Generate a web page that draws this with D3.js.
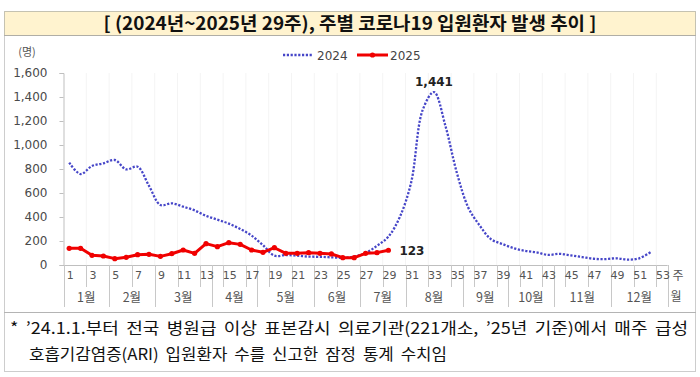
<!DOCTYPE html>
<html><head><meta charset="utf-8">
<script src="https://cdn.jsdelivr.net/npm/d3@7"></script>
<style>body{margin:0;background:#fff;} svg{display:block}</style>
</head><body>
<svg id="c" width="700" height="377"></svg>
<script>
// ---- data ----
const weeks = d3.range(1, 54);
const weekTickLabels = d3.range(1, 54, 2);
const months = ["1월","2월","3월","4월","5월","6월","7월","8월","9월","10월","11월","12월"];
const monthStartWeek = [1,5,9,14,18,23,27,31,36,40,44,49];
const monthEndWeek   = [4,8,13,17,22,26,30,35,39,43,48,53];
const series2024 = [853,758,825,847,875,797,819,660,500,514,486,455,410,378,345,300,245,165,78,83,78,70,68,64,60,70,100,160,236,400,690,1290,1441,1160,770,480,330,215,175,140,118,105,84,93,80,66,52,49,56,45,56,107];
const series2025 = [139,139,81,75,53,64,86,89,72,94,125,97,178,153,186,172,125,106,144,97,97,103,97,92,61,61,97,103,123];
const yTicks = [0,200,400,600,800,1000,1200,1400,1600];
const seriesNames = ["2024","2025"];
const titleText = "[ (2024년~2025년 29주), 주별 코로나19 입원환자 발생 추이 ]";
const noteLines = ["* ’24.1.1.부터 전국 병원급 이상 표본감시 의료기관(221개소, ’25년 기준)에서 매주 급성",
                   "호흡기감염증(ARI) 입원환자 수를 신고한 잠정 통계 수치임"];

const svg = d3.select("#c");
const latin = "'DejaVu Sans','Noto Sans CJK KR',sans-serif";
const kr = "'Noto Sans CJK KR','Noto Sans',sans-serif";

// frames
svg.append("rect").attr("x",4.5).attr("y",11.5).attr("width",691).attr("height",24)
  .attr("fill","#FFF3CF").attr("stroke","#8a8a7a").attr("stroke-dasharray","1 1");
svg.append("rect").attr("x",4.5).attr("y",35.5).attr("width",691).attr("height",277)
  .attr("fill","none").attr("stroke","#9a9a9a").attr("stroke-dasharray","1 1");
svg.append("rect").attr("x",4.5).attr("y",312.5).attr("width",691).attr("height",59)
  .attr("fill","none").attr("stroke","#9a9a9a").attr("stroke-dasharray","1 1");

function fitText(sel, w, mode){
  sel.attr("textLength", w).attr("lengthAdjust", mode || "spacingAndGlyphs");
}

const t = svg.append("text").attr("x",350).attr("y",30).attr("text-anchor","middle")
  .attr("font-family",kr).attr("font-weight","bold").attr("font-size",18).attr("fill","#111")
  .text(titleText);
fitText(t, 493, "spacingAndGlyphs");

// scales
const x = d3.scaleBand().domain(weeks).range([63.5, 667.7]).padding(0);
const bw = x.bandwidth();
const cx = w => x(w) + bw/2;
const y = d3.scaleLinear().domain([0,1600]).range([265,73]);

// faint vertical grid
svg.append("g").selectAll("line").data(weekTickLabels.slice(1)).join("line")
  .attr("x1",d=>x(d)).attr("x2",d=>x(d)).attr("y1",73).attr("y2",265)
  .attr("stroke","#f4f4f4").attr("stroke-width",1);

// y axis
const ya = svg.append("g").attr("transform","translate(63.5,0)")
  .call(d3.axisLeft(y).tickValues(yTicks).tickSize(4).tickPadding(12).tickFormat(d3.format(",")));
ya.select(".domain").attr("stroke","#bfbfbf");
ya.selectAll(".tick line").attr("stroke","#bfbfbf");
ya.selectAll("text").attr("font-family",latin).attr("font-size",12).attr("fill","#4a4a4a");
svg.append("text").attr("x",27).attr("y",56).attr("text-anchor","middle")
  .attr("font-family",kr).attr("font-size",11).attr("fill","#555").text("(명)");

// x axis line
svg.append("line").attr("x1",63.5).attr("x2",667.7).attr("y1",265.5).attr("y2",265.5).attr("stroke","#bfbfbf");
// week ticks
const tickPos = weekTickLabels.map(d=>x(d)).concat([667.7]);
svg.append("g").selectAll("line").data(tickPos).join("line")
  .attr("x1",d=>Math.round(d)+0.5).attr("x2",d=>Math.round(d)+0.5).attr("y1",265).attr("y2",287)
  .attr("stroke","#c8c8c8");
// month separators
const sepPos = monthStartWeek.map(d=>x(d)).concat([667.7]);
svg.append("g").selectAll("line").data(sepPos).join("line")
  .attr("x1",d=>Math.round(d)+0.5).attr("x2",d=>Math.round(d)+0.5).attr("y1",265).attr("y2",307)
  .attr("stroke","#c8c8c8");
// week labels
svg.append("g").selectAll("text").data(weekTickLabels).join("text")
  .attr("x",d=>cx(d)+1).attr("y",279).attr("text-anchor","middle")
  .attr("font-family",latin).attr("font-size",11).attr("fill","#555").text(d=>d);
// month labels
svg.append("g").selectAll("text").data(months).join("text")
  .attr("x",(d,i)=>(x(monthStartWeek[i]) + x(monthEndWeek[i]) + bw)/2).attr("y",302).attr("text-anchor","middle")
  .attr("font-family",kr).attr("font-size",12.5).attr("fill","#555").text(d=>d);
svg.append("text").attr("x",678).attr("y",280).attr("text-anchor","middle")
  .attr("font-family",kr).attr("font-size",12).attr("fill","#555").text("주");
svg.append("text").attr("x",676).attr("y",301).attr("text-anchor","middle")
  .attr("font-family",kr).attr("font-size",12).attr("fill","#555").text("월");

// 2024 line
const blue = "#4646C8", red = "#F00000";
const line24 = d3.line().x((d,i)=>cx(i+1)).y(d=>y(d)).curve(d3.curveCatmullRom.alpha(0.5));
svg.append("path").attr("d", line24(series2024)).attr("fill","none")
  .attr("stroke",blue).attr("stroke-width",2.3).attr("stroke-dasharray","2.2 1.6");

// 2025 line
const line25 = d3.line().x((d,i)=>cx(i+1)).y(d=>y(d));
svg.append("path").attr("d", line25(series2025)).attr("fill","none")
  .attr("stroke",red).attr("stroke-width",3).attr("stroke-linejoin","round");
svg.append("g").selectAll("circle").data(series2025).join("circle")
  .attr("cx",(d,i)=>cx(i+1)).attr("cy",d=>y(d)).attr("r",2.6).attr("fill",red);

// data labels
const peakIdx = series2024.indexOf(d3.max(series2024));
svg.append("text").attr("x",cx(peakIdx+1)).attr("y",y(series2024[peakIdx])-6).attr("text-anchor","middle")
  .attr("font-family",latin).attr("font-weight","bold").attr("font-size",12).attr("fill","#222")
  .text(d3.format(",")(series2024[peakIdx]));
const lastIdx = series2025.length-1;
svg.append("text").attr("x",cx(lastIdx+1)+11).attr("y",y(series2025[lastIdx])+4.5)
  .attr("font-family",latin).attr("font-weight","bold").attr("font-size",12).attr("fill","#222")
  .text(d3.format(",")(series2025[lastIdx]));

// legend
const lg = svg.append("g");
lg.append("line").attr("x1",283).attr("x2",313).attr("y1",55).attr("y2",55)
  .attr("stroke",blue).attr("stroke-width",2.3).attr("stroke-dasharray","2.2 1.6");
lg.append("text").attr("x",317).attr("y",59.5).attr("font-family",latin).attr("font-size",12).attr("fill","#444").text(seriesNames[0]);
lg.append("line").attr("x1",357).attr("x2",388).attr("y1",55).attr("y2",55).attr("stroke",red).attr("stroke-width",3);
lg.append("circle").attr("cx",372.5).attr("cy",55).attr("r",2.6).attr("fill",red);
lg.append("text").attr("x",390).attr("y",59.5).attr("font-family",latin).attr("font-size",12).attr("fill","#444").text(seriesNames[1]);

// footnote
const n1 = svg.append("text").attr("x",10).attr("y",334).attr("font-family",kr).attr("font-size",16).attr("word-spacing",3).attr("fill","#111").text(noteLines[0]);
fitText(n1, 678, "spacingAndGlyphs");
const n2 = svg.append("text").attr("x",29).attr("y",360).attr("font-family",kr).attr("font-size",16).attr("word-spacing",3).attr("fill","#111").text(noteLines[1]);
fitText(n2, 418, "spacingAndGlyphs");
</script>
</body></html>
